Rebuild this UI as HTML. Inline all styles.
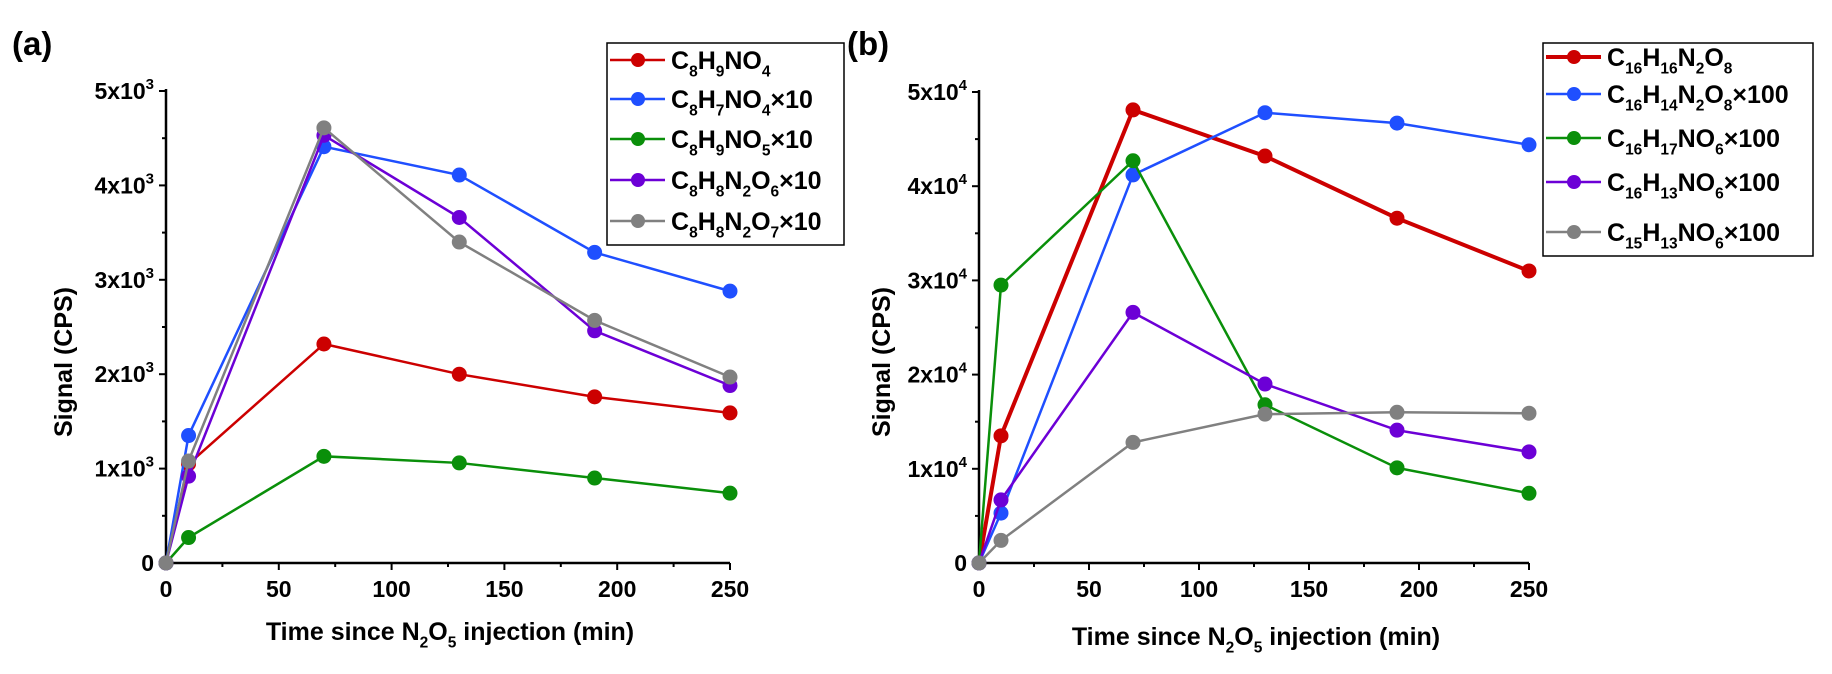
<!DOCTYPE html>
<html><head><meta charset="utf-8"><style>
html,body{margin:0;padding:0;background:#fff;}
svg{display:block;font-family:"Liberation Sans",Arial,sans-serif;font-weight:bold;}
</style></head>
<body>
<svg id="chart" width="1832" height="674" viewBox="0 0 1832 674" xmlns="http://www.w3.org/2000/svg"></svg>
<script>
const times = [0, 10, 70, 130, 190, 250];
const xTicks = [0, 50, 100, 150, 200, 250];
const yTicksA = [0, 1, 2, 3, 4, 5];
const yTicksB = [0, 1, 2, 3, 4, 5];
// panel a values (x10^3 CPS)
const aRed    = [0, 1.05, 2.32, 2.00, 1.76, 1.59];
const aBlue   = [0, 1.35, 4.41, 4.11, 3.29, 2.88];
const aGreen  = [0, 0.27, 1.13, 1.06, 0.90, 0.74];
const aPurple = [0, 0.92, 4.53, 3.66, 2.46, 1.88];
const aGray   = [0, 1.08, 4.61, 3.40, 2.57, 1.97];
// panel b values (x10^4 CPS)
const bRed    = [0, 1.35, 4.81, 4.32, 3.66, 3.10];
const bBlue   = [0, 0.53, 4.12, 4.78, 4.67, 4.44];
const bGreen  = [0, 2.95, 4.27, 1.68, 1.01, 0.74];
const bPurple = [0, 0.67, 2.66, 1.90, 1.41, 1.18];
const bGray   = [0, 0.24, 1.28, 1.58, 1.60, 1.59];
const labelsA = [["C","8","H","9","NO","4",""],["C","8","H","7","NO","4","×10"],["C","8","H","9","NO","5","×10"],["C","8","H","8","N","2","O","6","×10"],["C","8","H","8","N","2","O","7","×10"]];
const labelsB = [["C","16","H","16","N","2","O","8",""],["C","16","H","14","N","2","O","8","×100"],["C","16","H","17","NO","6","×100"],["C","16","H","13","NO","6","×100"],["C","15","H","13","NO","6","×100"]];

const NS = "http://www.w3.org/2000/svg";
const svg = document.getElementById("chart");
const colors = ["#cc0000", "#1f4fff", "#0a8f0a", "#6c00d6", "#808080"];
function mk(tag, attrs, parent) {
  const e = document.createElementNS(NS, tag);
  for (const k in attrs) e.setAttribute(k, attrs[k]);
  (parent || svg).appendChild(e);
  return e;
}
function formula(parent, parts, x, y, size, len) {
  const t = mk("text", {x: x, y: y, "font-size": size, fill: "#000"}, parent);
  let sub = false;
  parts.forEach((p, i) => {
    const isSub = (i % 2 === 1) && !(p.startsWith("×"));
    const ts = document.createElementNS(NS, "tspan");
    if (isSub && !sub) { ts.setAttribute("dy", size * 0.3); ts.setAttribute("font-size", size * 0.62); sub = true; }
    else if (!isSub && sub) { ts.setAttribute("dy", -size * 0.3); sub = false; }
    else if (isSub) ts.setAttribute("font-size", size * 0.62);
    ts.textContent = p;
    t.appendChild(ts);
  });
  return t;
}
function panel(cfg) {
  const g = mk("g", {});
  
  
  const X = v => cfg.x0 + (v / 250) * (cfg.x1 - cfg.x0);
  const Y = v => cfg.y0 - (v / 5) * (cfg.y0 - cfg.y5);
  // axes
  const ax = mk("path", {d: `M${cfg.x0} ${cfg.y5 - 2} V${cfg.y0} H${cfg.x1}`, stroke: "#000", "stroke-width": 2.5, fill: "none"}, g);
  
  
  cfg.yt.forEach(v => {
    mk("line", {x1: cfg.x0 - 7, x2: cfg.x0, y1: Y(v), y2: Y(v), stroke: "#000", "stroke-width": 2}, g);
    if (v < 5) mk("line", {x1: cfg.x0 - 4, x2: cfg.x0, y1: Y(v + 0.5), y2: Y(v + 0.5), stroke: "#000", "stroke-width": 2}, g);
    const t = mk("text", {x: cfg.x0 - 12, y: Y(v) + 8, "font-size": 23, "text-anchor": "end"}, g);
    
    
    if (v === 0) t.textContent = "0";
    else { t.textContent = v + "x10"; const s = document.createElementNS(NS, "tspan"); s.setAttribute("dy", -10); s.setAttribute("font-size", 15); s.textContent = cfg.exp; t.appendChild(s); }
  });
  xTicks.forEach(v => {
    mk("line", {x1: X(v), x2: X(v), y1: cfg.y0, y2: cfg.y0 + 7, stroke: "#000", "stroke-width": 2}, g);
    if (v < 250) mk("line", {x1: X(v + 25), x2: X(v + 25), y1: cfg.y0, y2: cfg.y0 + 4, stroke: "#000", "stroke-width": 2}, g);
    const t = mk("text", {x: X(v), y: cfg.y0 + 34, "font-size": 23, "text-anchor": "middle"}, g);
    
    
    t.textContent = v;
  });
  // titles
  const yt = mk("text", {x: 0, y: 0, "font-size": 25, "text-anchor": "middle", transform: `translate(${cfg.ytx},362) rotate(-90)`}, g);
  
  
  yt.textContent = "Signal (CPS)";
  const xt = formula(g, ["Time since N","2","O","5"," injection (min)"], 0, cfg.xty, 25);
  xt.setAttribute("text-anchor", "middle"); xt.setAttribute("x", cfg.xtx);
  
  
  const pl = mk("text", {x: cfg.plx, y: 55, "font-size": 33}, g);
  
  
  pl.textContent = cfg.pl;
  // series
  cfg.series.forEach((vals, i) => {
    const sg = mk("g", {}, g);
    
    
    const pts = vals.map((v, j) => X(times[j]) + "," + Y(v)).join(" ");
    mk("polyline", {points: pts, fill: "none", stroke: colors[i], "stroke-width": (cfg.thick && i === 0) ? 4 : 2.5}, sg);
    vals.forEach((v, j) => {
      const c = mk("circle", {cx: X(times[j]), cy: Y(v), r: 7.5, fill: colors[i]}, sg);
      
      
    });
  });
  // legend
  const lg = mk("g", {}, g);
  
  
  mk("rect", {x: cfg.lx, y: cfg.ly, width: cfg.lw, height: cfg.lh, fill: "#fff", stroke: "#000", "stroke-width": 1.5}, lg);
  cfg.labels.forEach((parts, i) => {
    const eg = mk("g", {}, lg);
    
    
    const ry = cfg.rows[i];
    mk("line", {x1: cfg.lx + 3, x2: cfg.lx + 58, y1: ry, y2: ry, stroke: colors[i], "stroke-width": (cfg.thick && i === 0) ? 4 : 2.5}, eg);
    mk("circle", {cx: cfg.lx + 31, cy: ry, r: 7, fill: colors[i]}, eg);
    formula(eg, parts, cfg.lx + 64, ry + 9, 25);
  });
}
panel({name: "panel-a", x0: 166, x1: 730, y0: 563, y5: 91, exp: "3", yt: yTicksA, ytx: 72, xtx: 450, xty: 640, plx: 12, pl: "(a)",
  series: [aRed, aBlue, aGreen, aPurple, aGray], labels: labelsA, lx: 607, ly: 43, lw: 237, lh: 202, rows: [60, 99, 139, 180, 221], thick: false});
panel({name: "panel-b", x0: 979, x1: 1529, y0: 563, y5: 92, exp: "4", yt: yTicksB, ytx: 890, xtx: 1256, xty: 645, plx: 847, pl: "(b)",
  series: [bRed, bBlue, bGreen, bPurple, bGray], labels: labelsB, lx: 1543, ly: 43, lw: 270, lh: 213, rows: [57, 94, 138, 182, 232], thick: true});
</script>
</body></html>
